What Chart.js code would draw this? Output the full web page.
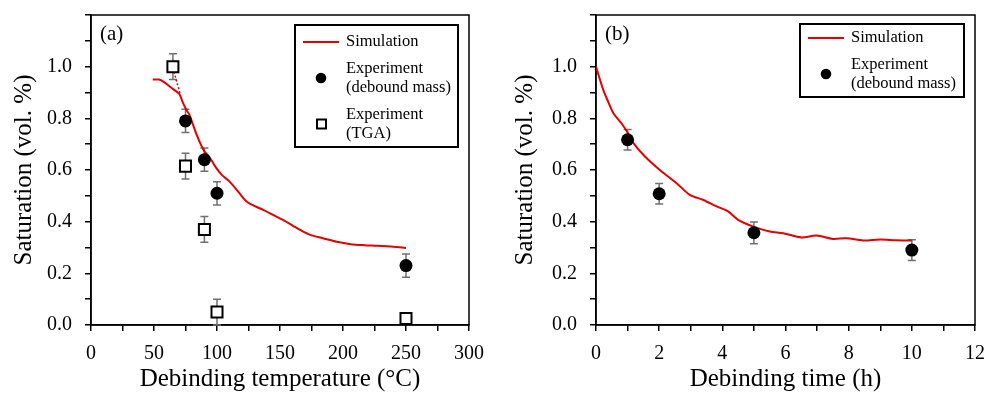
<!DOCTYPE html>
<html>
<head>
<meta charset="utf-8">
<script src="https://cdn.jsdelivr.net/npm/chart.js@4.4.1/dist/chart.umd.min.js"></script>
<style>
  html, body { margin: 0; padding: 0; background: #fff; }
  #wrap { position: relative; width: 986px; height: 394px; }
  .panel { position: absolute; top: 0; width: 493px; height: 394px; }
</style>
</head>
<body>
<div id="wrap">
  <div class="panel" style="left:0"><canvas id="chartA"></canvas></div>
  <div class="panel" style="left:493px"><canvas id="chartB"></canvas></div>
</div>
<script>
// ---- (a) saturation vs debinding temperature ----
const tempSimX = [49, 54, 58, 62, 66, 70, 73, 76, 78, 81, 84, 87, 90, 93, 96, 99.5, 104, 110, 117, 123.5, 130, 137, 145, 153, 160, 167, 174, 184, 195, 206, 217, 227, 240, 250];
const tempSimY = [0.95, 0.95, 0.94, 0.925, 0.91, 0.895, 0.86, 0.83, 0.815, 0.775, 0.735, 0.70, 0.672, 0.655, 0.635, 0.607, 0.58, 0.555, 0.515, 0.478, 0.46, 0.445, 0.425, 0.405, 0.385, 0.365, 0.349, 0.336, 0.322, 0.313, 0.309, 0.307, 0.303, 0.298];
const tempLinkX = [65, 71];
const tempLinkY = [0.995, 0.89];
const tempMassX = [75, 90, 100, 250];
const tempMassY = [0.79, 0.64, 0.51, 0.23];
const tempMassErr = [0.045, 0.045, 0.045, 0.045];
const tempTgaX = [65, 75, 90, 100, 250];
const tempTgaY = [1.0, 0.615, 0.37, 0.05, 0.025];
const tempTgaErr = [0.05, 0.05, 0.05, 0.05, 0];

// ---- (b) saturation vs debinding time ----
const timeSimX = [0, 0.23, 0.4, 0.55, 0.81, 1.0, 1.18, 1.55, 2.02, 2.55, 2.97, 3.4, 3.82, 4.18, 4.5, 4.98, 5.5, 5.93, 6.51, 6.98, 7.5, 7.93, 8.46, 8.99, 9.5, 10];
const timeSimY = [1.0, 0.91, 0.86, 0.82, 0.78, 0.745, 0.705, 0.652, 0.60, 0.549, 0.504, 0.484, 0.459, 0.44, 0.407, 0.381, 0.362, 0.355, 0.339, 0.346, 0.333, 0.336, 0.327, 0.331, 0.328, 0.327];
const timeMassX = [1, 2, 5, 10];
const timeMassY = [0.717, 0.508, 0.357, 0.29];
const timeMassErr = [0.04, 0.04, 0.042, 0.04];

const SERIF = '"Liberation Serif", "Times New Roman", serif';
const RED = 'rgb(228, 0, 0)';

const pairs = (xs, ys) => xs.map((x, i) => ({ x: x, y: ys[i] }));

// vertical error bars, drawn under the markers
const errorBars = {
  id: 'errorBars',
  beforeDatasetsDraw(chart) {
    const { ctx, scales: { x, y } } = chart;
    chart.data.datasets.forEach(ds => {
      if (!ds.errors) return;
      ctx.save();
      ctx.strokeStyle = '#707070';
      ctx.lineWidth = 1.5;
      ds.data.forEach((p, j) => {
        const e = ds.errors[j];
        if (!e) return;
        const px = x.getPixelForValue(p.x);
        const top = y.getPixelForValue(p.y + e);
        const bot = y.getPixelForValue(p.y - e);
        ctx.beginPath();
        ctx.moveTo(px, top); ctx.lineTo(px, bot);
        ctx.moveTo(px - 4, top); ctx.lineTo(px + 4, top);
        ctx.moveTo(px - 4, bot); ctx.lineTo(px + 4, bot);
        ctx.stroke();
      });
      ctx.restore();
    });
  }
};

// closes the plot box on top and right
const frame = {
  id: 'frame',
  beforeDatasetsDraw(chart) {
    const { ctx, chartArea: a } = chart;
    ctx.save();
    ctx.strokeStyle = '#000';
    ctx.lineWidth = 1.5;
    ctx.strokeRect(a.left, a.top, a.right - a.left, a.bottom - a.top);
    ctx.restore();
  }
};

// boxed legend with two-line labels plus the panel tag
const boxLegend = {
  id: 'boxLegend',
  afterDraw(chart, args, opts) {
    const { ctx } = chart;
    const b = opts.box;
    ctx.save();
    ctx.fillStyle = '#fff';
    ctx.fillRect(b.x, b.y, b.w, b.h);
    ctx.strokeStyle = '#000';
    ctx.lineWidth = 2;
    ctx.strokeRect(b.x, b.y, b.w, b.h);
    ctx.font = '16.5px ' + SERIF;
    ctx.fillStyle = '#000';
    ctx.textBaseline = 'middle';
    opts.rows.forEach(r => {
      const ds = chart.data.datasets[r.index];
      const lines = [].concat(ds.label);
      if (ds.showLine) {
        ctx.strokeStyle = ds.borderColor;
        ctx.lineWidth = 2;
        ctx.beginPath();
        ctx.moveTo(b.x + 8, r.y); ctx.lineTo(b.x + 44, r.y);
        ctx.stroke();
      } else if (ds.pointStyle === 'rect') {
        ctx.fillStyle = '#fff';
        ctx.strokeStyle = '#000';
        ctx.lineWidth = 2;
        ctx.fillRect(b.x + 22, r.y - 4.5, 9, 9);
        ctx.strokeRect(b.x + 22, r.y - 4.5, 9, 9);
      } else {
        ctx.fillStyle = '#000';
        ctx.beginPath();
        ctx.arc(b.x + 26, r.y, 5.3, 0, Math.PI * 2);
        ctx.fill();
      }
      ctx.fillStyle = '#000';
      const y0 = r.y - (lines.length - 1) * 9.8;
      lines.forEach((t, k) => ctx.fillText(t, b.x + 51, y0 + k * 19.6));
    });
    ctx.font = '21px ' + SERIF;
    ctx.fillText(opts.tag, chart.chartArea.left + 9, 34);
    ctx.restore();
  }
};

function axisFont(size) { return { family: SERIF, size: size }; }

function makeOptions(cfg) {
  return {
    responsive: true,
    maintainAspectRatio: false,
    animation: false,
    layout: { autoPadding: false, padding: { top: 15, right: cfg.padRight, left: 0, bottom: 0 } },
    plugins: {
      legend: { display: false },
      tooltip: { enabled: false },
      boxLegend: cfg.legend
    },
    scales: {
      x: {
        type: 'linear',
        min: cfg.xMin, max: cfg.xMax,
        ticks: {
          stepSize: cfg.xStep, autoSkip: false, maxRotation: 0, padding: 11,
          color: '#000', font: axisFont(20),
          callback: v => (Math.round(v / cfg.xStep) % 2 === 0 ? String(v) : '')
        },
        grid: { drawOnChartArea: false, drawTicks: true, tickLength: 6, color: '#000', lineWidth: 1.5 },
        border: { color: '#000', width: 1.5 },
        title: { display: true, text: cfg.xTitle, color: '#000', font: axisFont(25), padding: { top: 0, bottom: 0 } },
        afterFit: s => { s.height = 69; s.paddingLeft = 0; s.paddingRight = 0; }
      },
      y: {
        type: 'linear',
        min: 0, max: 1.2,
        ticks: {
          stepSize: 0.1, autoSkip: false, padding: 13,
          color: '#000', font: axisFont(20),
          callback: v => {
            const r = Math.round(v * 10);
            return (r % 2 === 0 && r <= 10) ? (r / 10).toFixed(1) : '';
          }
        },
        grid: { drawOnChartArea: false, drawTicks: true, tickLength: 6, color: '#000', lineWidth: 1.5 },
        border: { color: '#000', width: 1.5 },
        title: { display: true, text: 'Saturation (vol. %)', color: '#000', font: axisFont(25), padding: { top: cfg.yTitlePad, bottom: 0 } },
        afterFit: s => { s.width = cfg.yWidth; s.paddingTop = 0; s.paddingBottom = 0; }
      }
    }
  };
}

const simStyle = { showLine: true, borderColor: RED, borderWidth: 2, pointRadius: 0, tension: 0.3, order: 3 };
const dotStyle = { showLine: false, pointStyle: 'circle', pointRadius: 6.5, backgroundColor: '#000', borderColor: '#000', borderWidth: 0, order: 1, clip: false };
const boxStyle = { showLine: false, pointStyle: 'rect', pointRadius: 7.8, backgroundColor: '#fff', borderColor: '#000', borderWidth: 2, order: 2, clip: false };

new Chart(document.getElementById('chartA'), {
  type: 'scatter',
  data: {
    datasets: [
      Object.assign({ label: 'Simulation', data: pairs(tempSimX, tempSimY) }, simStyle),
      Object.assign({ label: ['Experiment', '(debound mass)'], data: pairs(tempMassX, tempMassY), errors: tempMassErr }, dotStyle),
      Object.assign({ label: ['Experiment', '(TGA)'], data: pairs(tempTgaX, tempTgaY), errors: tempTgaErr }, boxStyle),
      { label: 'link', data: pairs(tempLinkX, tempLinkY), showLine: true, borderColor: RED, borderWidth: 1.5, borderDash: [2, 2], pointRadius: 0, order: 4 }
    ]
  },
  options: makeOptions({
    xMin: 0, xMax: 300, xStep: 25, xTitle: 'Debinding temperature (°C)',
    yWidth: 91, yTitlePad: 9, padRight: 24,
    legend: {
      tag: '(a)',
      box: { x: 295, y: 25, w: 163, h: 122 },
      rows: [ { index: 0, y: 42 }, { index: 1, y: 78 }, { index: 2, y: 124 } ]
    }
  }),
  plugins: [frame, errorBars, boxLegend]
});

new Chart(document.getElementById('chartB'), {
  type: 'scatter',
  data: {
    datasets: [
      Object.assign({ label: 'Simulation', data: pairs(timeSimX, timeSimY) }, simStyle),
      Object.assign({ label: ['Experiment', '(debound mass)'], data: pairs(timeMassX, timeMassY), errors: timeMassErr }, dotStyle)
    ]
  },
  options: makeOptions({
    xMin: 0, xMax: 12, xStep: 1, xTitle: 'Debinding time (h)',
    yWidth: 103, yTitlePad: 17, padRight: 11,
    legend: {
      tag: '(b)',
      box: { x: 800 - 493, y: 24, w: 164, h: 73 },
      rows: [ { index: 0, y: 38 }, { index: 1, y: 74 } ]
    }
  }),
  plugins: [frame, errorBars, boxLegend]
});
</script>
</body>
</html>
